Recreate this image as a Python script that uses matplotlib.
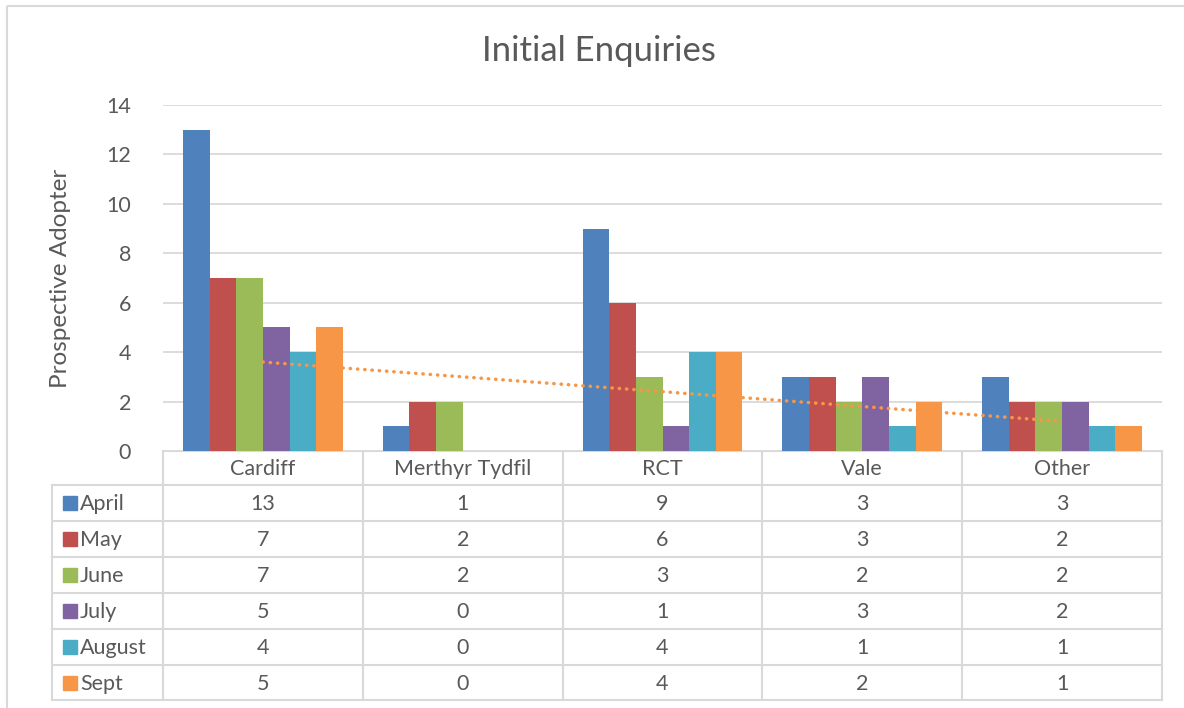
import numpy as np
import matplotlib
matplotlib.use("Agg")
import matplotlib.pyplot as plt
from matplotlib.patches import Rectangle

# =====================
# Data
# =====================
categories = ["Cardiff", "Merthyr Tydfil", "RCT", "Vale", "Other"]
months = ["April", "May", "June", "July", "August", "Sept"]
april = [13, 1, 9, 3, 3]
may = [7, 2, 6, 3, 2]
june = [7, 2, 3, 2, 2]
july = [5, 0, 1, 3, 2]
august = [4, 0, 4, 1, 1]
sept = [5, 0, 4, 2, 1]
series = [april, may, june, july, august, sept]
colors = ["#4F81BD", "#C0504D", "#9BBB59", "#8064A2", "#4BACC6", "#F79646"]

plt.rcParams["font.family"] = ["Lato", "DejaVu Sans"]
text_col = "#595959"
grid_col = "#D9D9D9"
fs = 15.5

W, H = 1184, 708
fig = plt.figure(figsize=(W / 100, H / 100), dpi=100)

# overlay axes in pixel coords for the table / frame
ov = fig.add_axes([0, 0, 1, 1])
ov.set_xlim(0, W)
ov.set_ylim(H, 0)
ov.axis("off")
ov.add_patch(Rectangle((7, 6), 1200, 720, fill=False, edgecolor=grid_col, lw=1.5))

# plot area in pixels
px0, px1 = 163, 1162
py_top, py_bot = 105, 451
ax = fig.add_axes([px0 / W, 1 - py_bot / H, (px1 - px0) / W, (py_bot - py_top) / H])

n = len(months)
w = 1 / (n + 1.5)
x = np.arange(len(categories))
for i, (vals, c) in enumerate(zip(series, colors)):
    ax.bar(x + (i - (n - 1) / 2) * w, vals, width=w, color=c, zorder=3 if i == n - 1 else 2)

# linear trendline for Sept
coef = np.polyfit(x + 1, sept, 1)
ax.plot(x, np.polyval(coef, x + 1), color="#F79646", lw=2.5,
        linestyle=(0, (0.1, 2.0)), dash_capstyle="round", zorder=2.5)

ax.set_xlim(-0.5, len(categories) - 0.5)
ax.set_ylim(0, 14)
ax.set_yticks(range(0, 15, 2))
ax.set_xticks([])
ax.yaxis.grid(True, color=grid_col, lw=1.3, zorder=0)
for s in ax.spines.values():
    s.set_visible(False)
ax.tick_params(axis="y", length=0, pad=23, labelsize=fs, labelcolor=text_col)
ax.set_ylabel("Prospective Adopter", fontsize=17.5, color=text_col)
ax.yaxis.set_label_coords(-0.092, 0.5)

fig.text(599 / W, 1 - 51 / H, "Initial Enquiries", ha="center", va="center",
         fontsize=25, color=text_col)

# =====================
# Data table
# =====================
col_edges = np.linspace(px0, px1, len(categories) + 1)
row_edges = [451, 485, 521, 557, 593, 629, 665, 700]
lc = dict(color=grid_col, lw=1.5)
ov.plot([px0, px1], [row_edges[0]] * 2, **lc)
for y in row_edges[1:]:
    ov.plot([52, px1], [y, y], **lc)
for xe in col_edges:
    ov.plot([xe, xe], [row_edges[0], row_edges[-1]], **lc)
ov.plot([52, 52], [row_edges[1], row_edges[-1]], **lc)

for j, cat in enumerate(categories):
    ov.text((col_edges[j] + col_edges[j + 1]) / 2, (row_edges[0] + row_edges[1]) / 2 + 1,
            cat, ha="center", va="center", fontsize=fs, color=text_col)
for i, (m, vals, c) in enumerate(zip(months, series, colors)):
    yc = (row_edges[i + 1] + row_edges[i + 2]) / 2 + 1
    ov.add_patch(Rectangle((63, yc - 8), 14, 14, color=c))
    ov.text(80, yc, m, ha="left", va="center", fontsize=fs, color=text_col)
    for j, v in enumerate(vals):
        ov.text((col_edges[j] + col_edges[j + 1]) / 2, yc, str(v),
                ha="center", va="center", fontsize=fs, color=text_col)

fig.savefig("out.png", dpi=100)
